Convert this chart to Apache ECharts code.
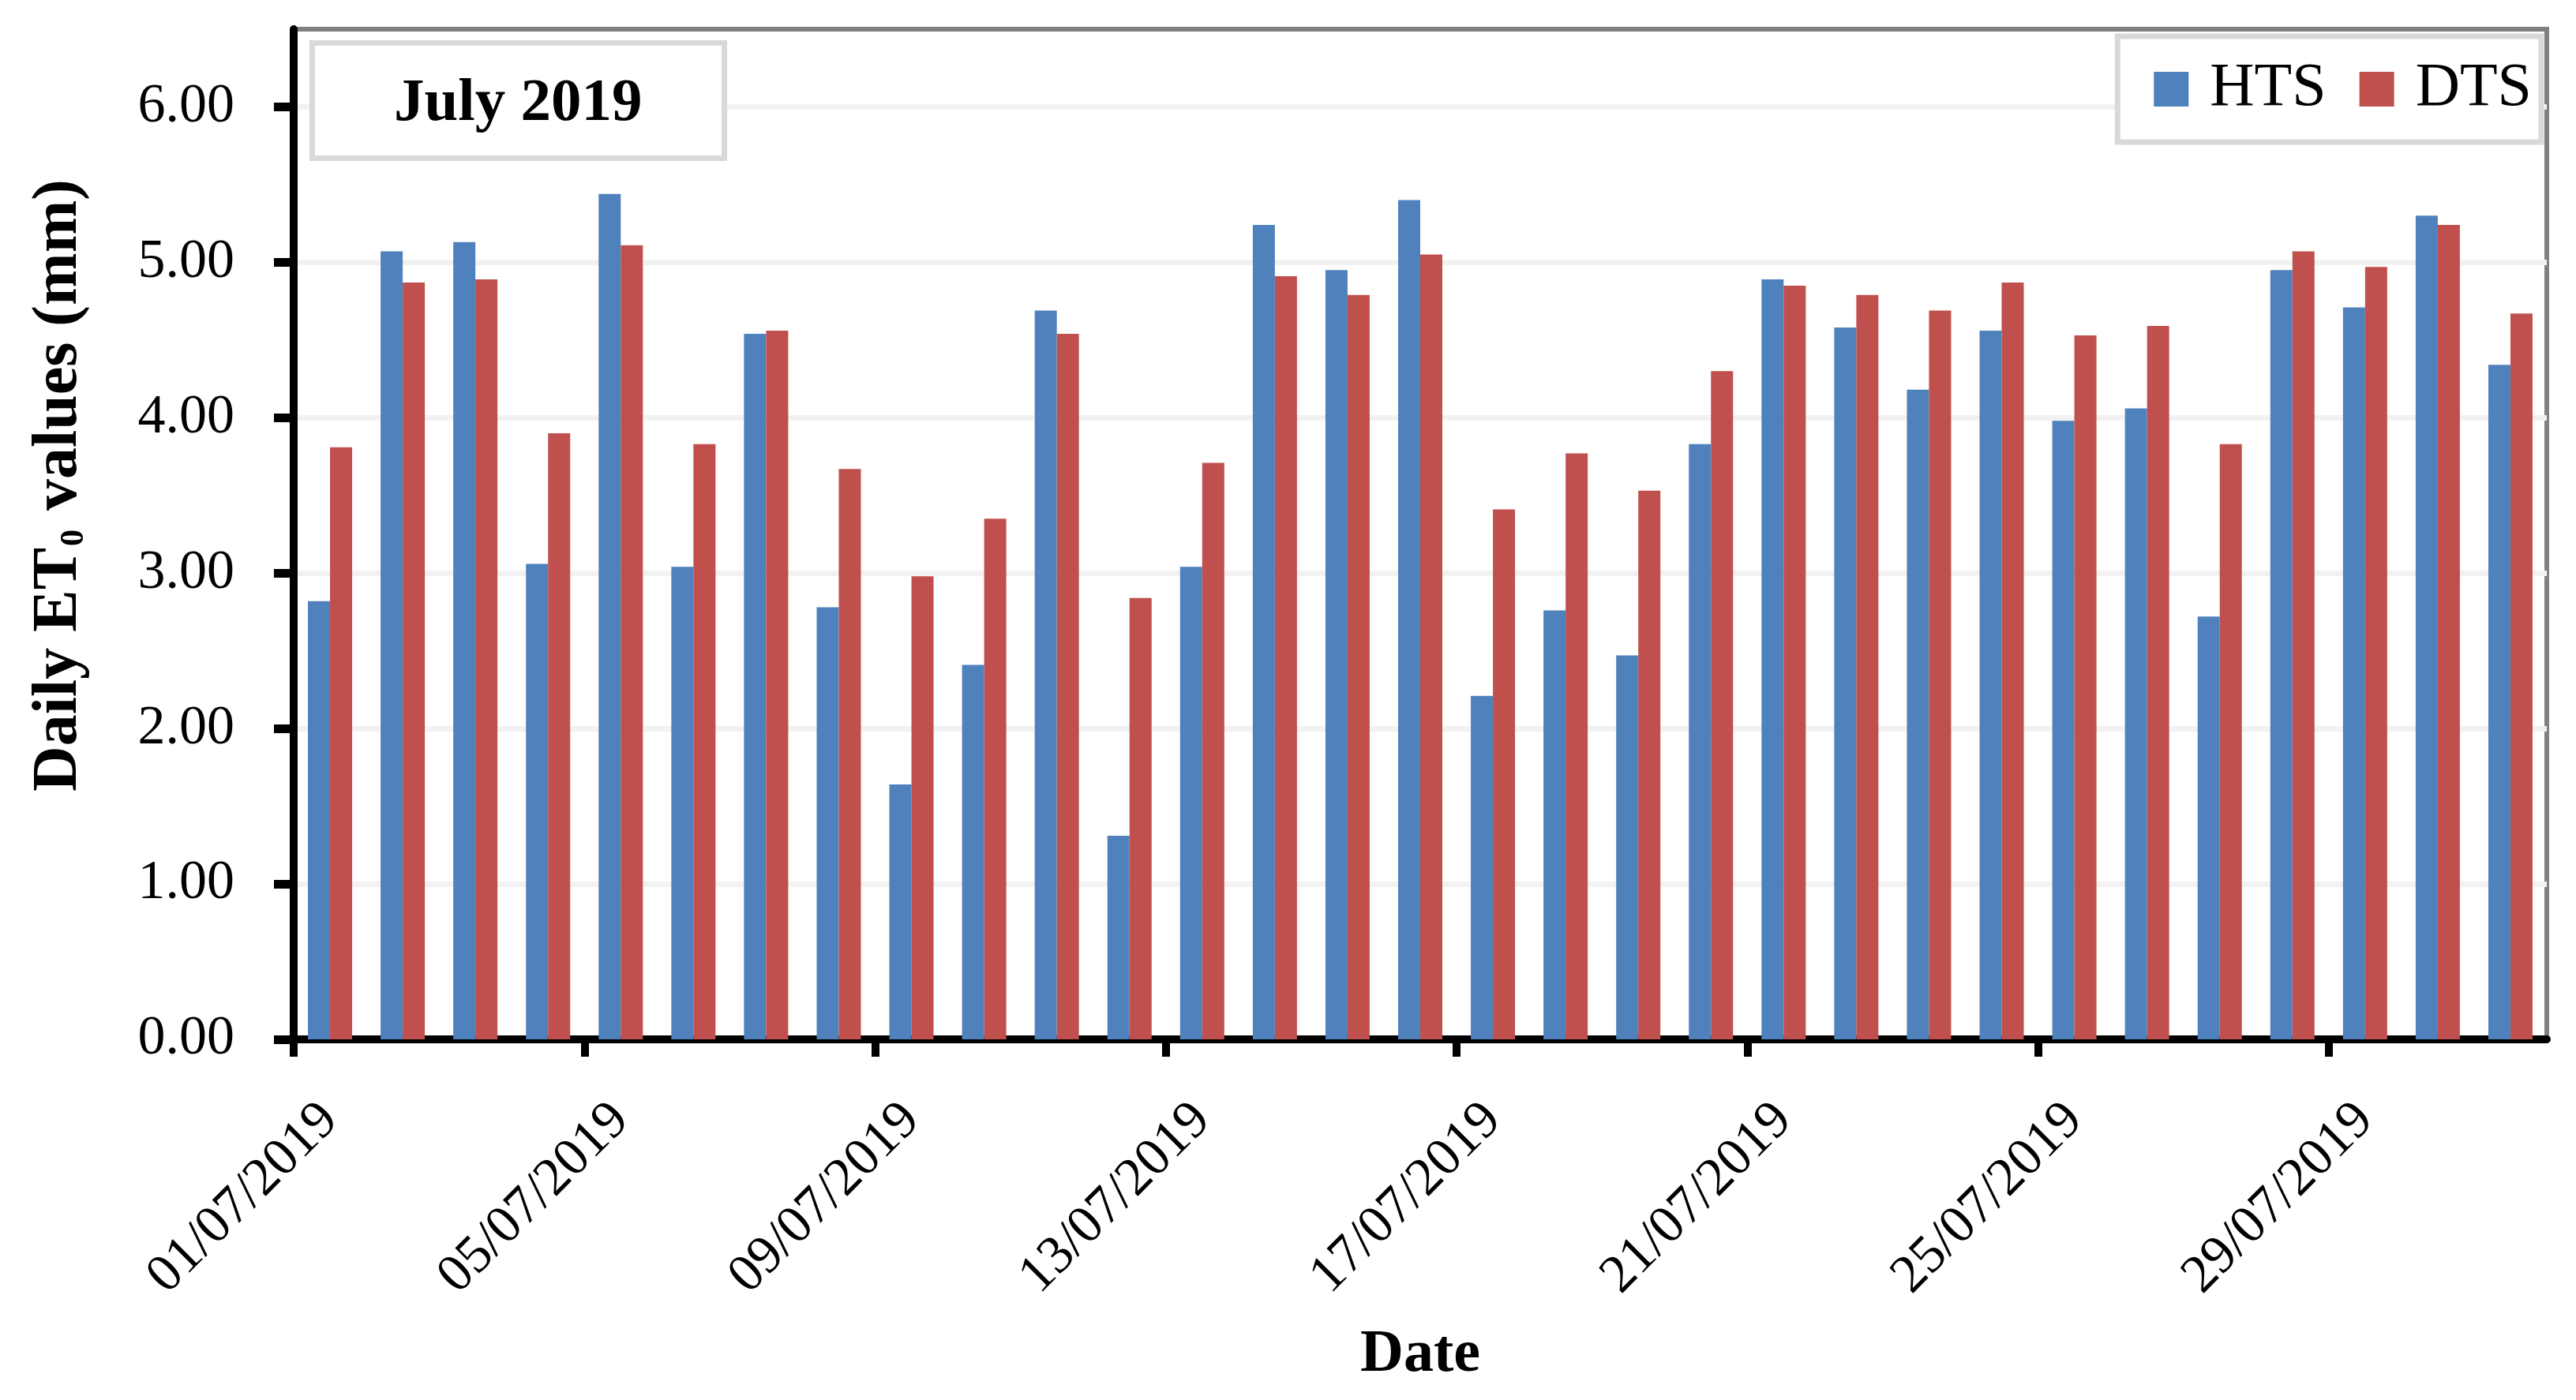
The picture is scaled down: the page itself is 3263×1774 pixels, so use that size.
<!DOCTYPE html>
<html>
<head>
<meta charset="utf-8">
<script src="https://cdn.jsdelivr.net/npm/echarts@6/dist/echarts.min.js"></script>
<style>
  html, body { margin: 0; padding: 0; background: #ffffff; }
  #chart { width: 3263px; height: 1774px; }
</style>
</head>
<body>
<div id="chart"></div>
<script>
const categories = [
  '01/07/2019','02/07/2019','03/07/2019','04/07/2019','05/07/2019','06/07/2019','07/07/2019','08/07/2019',
  '09/07/2019','10/07/2019','11/07/2019','12/07/2019','13/07/2019','14/07/2019','15/07/2019','16/07/2019',
  '17/07/2019','18/07/2019','19/07/2019','20/07/2019','21/07/2019','22/07/2019','23/07/2019','24/07/2019',
  '25/07/2019','26/07/2019','27/07/2019','28/07/2019','29/07/2019','30/07/2019','31/07/2019'
];
const htsValues = [2.82, 5.07, 5.13, 3.06, 5.44, 3.04, 4.54, 2.78, 1.64, 2.41, 4.69, 1.31, 3.04, 5.24, 4.95, 5.40,
                   2.21, 2.76, 2.47, 3.83, 4.89, 4.58, 4.18, 4.56, 3.98, 4.06, 2.72, 4.95, 4.71, 5.30, 4.34];
const dtsValues = [3.81, 4.87, 4.89, 3.90, 5.11, 3.83, 4.56, 3.67, 2.98, 3.35, 4.54, 2.84, 3.71, 4.91, 4.79, 5.05,
                   3.41, 3.77, 3.53, 4.30, 4.85, 4.79, 4.69, 4.87, 4.53, 4.59, 3.83, 5.07, 4.97, 5.24, 4.67];
const yTickValues = [0, 1, 2, 3, 4, 5, 6];
const xTickDays = [0, 4, 8, 12, 16, 20, 24, 28];
const seriesNames = ['HTS', 'DTS'];
const panelTitle = 'July 2019';

const FONT = '"Liberation Serif", "Times New Roman", serif';

const chart = echarts.init(document.getElementById('chart'), null, { renderer: 'canvas' });

chart.setOption({
  animation: false,
  backgroundColor: '#ffffff',
  title: {
    text: panelTitle,
    left: 395,
    top: 54,
    padding: [40, 104, 30, 104],
    borderColor: '#d9d9d9',
    borderWidth: 7,
    backgroundColor: '#ffffff',
    textStyle: { fontFamily: FONT, fontSize: 77, fontWeight: 'bold', color: '#000000' }
  },
  legend: {
    data: seriesNames,
    right: 44,
    top: 46,
    orient: 'horizontal',
    icon: 'rect',
    itemWidth: 44,
    itemHeight: 44,
    itemGap: 42,
    padding: [28, 12, 28, 46],
    borderColor: '#d9d9d9',
    borderWidth: 7,
    backgroundColor: '#ffffff',
    textStyle: { fontFamily: FONT, fontSize: 78, color: '#000000', padding: [0, 0, 0, 22] }
  },
  grid: {
    left: 372,
    right: 37,
    top: 37,
    bottom: 457,
    show: true,
    borderColor: '#808080',
    borderWidth: 6,
    backgroundColor: 'transparent'
  },
  xAxis: [
    {
      type: 'category',
      data: categories,
      position: 'bottom',
      boundaryGap: true,
      axisLine: { show: true, lineStyle: { color: '#000000', width: 10 } },
      axisTick: { show: false },
      axisLabel: {
        interval: 3,
        rotate: 45,
        margin: 92,
        fontFamily: FONT,
        fontSize: 68,
        color: '#000000'
      },
      splitLine: { show: false },
      name: 'Date',
      nameLocation: 'middle',
      nameGap: 400,
      nameTextStyle: { fontFamily: FONT, fontSize: 76, fontWeight: 'bold', color: '#000000', verticalAlign: 'middle' }
    },
    {
      type: 'value',
      position: 'bottom',
      min: 0,
      max: categories.length,
      axisLine: { show: false },
      axisTick: {
        show: true,
        inside: false,
        length: 22,
        customValues: xTickDays,
        lineStyle: { color: '#000000', width: 10 }
      },
      axisLabel: { show: false },
      splitLine: { show: false }
    }
  ],
  yAxis: {
    type: 'value',
    min: 0,
    max: 6.5,
    interval: 0.5,
    axisLine: { show: true, lineStyle: { color: '#000000', width: 10 } },
    axisTick: {
      show: true,
      inside: false,
      length: 25,
      customValues: yTickValues,
      lineStyle: { color: '#000000', width: 11 }
    },
    axisLabel: {
      customValues: yTickValues,
      formatter: (v) => v.toFixed(2),
      margin: 75,
      fontFamily: FONT,
      fontSize: 70,
      color: '#000000'
    },
    splitLine: { show: true, lineStyle: { color: '#f2f2f2', width: 7 } },
    name: 'Daily ET{sub|0} values (mm)',
    nameLocation: 'middle',
    nameRotate: 90,
    nameGap: 257,
    nameTextStyle: {
      fontFamily: FONT,
      fontSize: 80,
      fontWeight: 'bold',
      color: '#000000',
      padding: [0, 0, 0, 124],
      rich: {
        sub: { fontFamily: FONT, fontSize: 42, fontWeight: 'bold', color: '#000000', verticalAlign: 'bottom', padding: [0, 4, 0, 2] }
      }
    }
  },
  series: [
    {
      name: seriesNames[0],
      type: 'bar',
      xAxisIndex: 0,
      data: htsValues,
      barWidth: 28,
      barGap: '0%',
      itemStyle: { color: '#4f81bd' }
    },
    {
      name: seriesNames[1],
      type: 'bar',
      xAxisIndex: 0,
      data: dtsValues,
      barWidth: 28,
      barGap: '0%',
      itemStyle: { color: '#c0504d' }
    }
  ]
});
</script>
</body>
</html>
